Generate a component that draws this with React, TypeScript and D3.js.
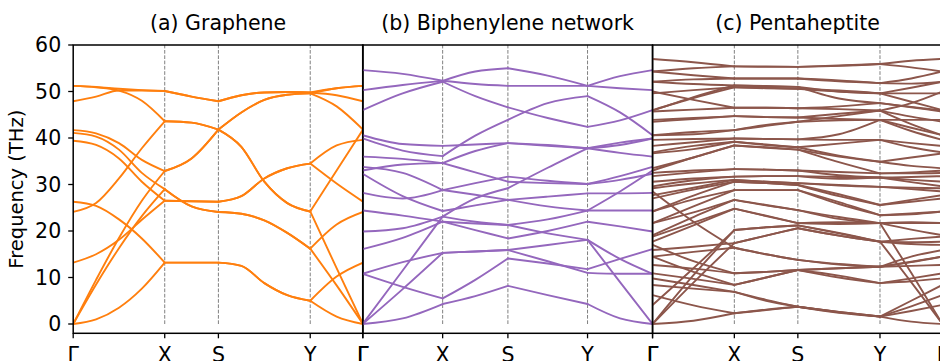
import React from "react";
import * as d3 from "d3";

const W = 940;
const H = 361;

const yTicks = [0, 10, 20, 30, 40, 50, 60];
const kLabels = ["Γ", "X", "S", "Y", "Γ"];
const titles = ["(a) Graphene", "(b) Biphenylene network", "(c) Pentaheptite"];
const colors = ["#ff7f0e", "#9467bd", "#8c564b"];

// k-path distances of high-symmetry points (Γ, X, S, Y, Γ)
const grapheneK = [0, 91.4, 145, 236.7, 289.4];
const grapheneDiv = [4, 2, 4, 2];
const biphenyleneK = [0, 80, 145.3, 225, 290];
const biphenyleneDiv = [2, 2, 2, 2];
const pentaheptiteK = [0, 81.6, 145, 227, 289.3];
const pentaheptiteDiv = [2, 2, 2, 2];

// Graphene bands (THz): Γ .25 .5 .75 X | mid S | .25 .5 .75 Y | mid Γ
const grapheneBands = [
  [51.2, 51.0, 50.6, 50.3, 50.1, 48.9, 47.9, 49.2, 49.8, 49.9, 49.8, 50.7, 51.2],
  [47.9, 48.9, 50.2, 50.2, 50.1, 48.9, 47.9, 49.2, 49.8, 49.9, 49.8, 49.2, 47.9],
  [51.2, 50.9, 50.2, 48.0, 43.6, 43.3, 41.8, 45.5, 48.2, 49.3, 49.6, 46.8, 41.8],
  [24.1, 26.0, 31.3, 37.8, 43.6, 43.3, 41.8, 38.1, 30.6, 26.0, 24.2, 33.0, 41.8],
  [41.7, 41.0, 38.9, 35.3, 32.9, 35.6, 41.8, 45.5, 48.2, 49.3, 49.6, 50.7, 51.2],
  [41.1, 40.3, 37.5, 32.5, 29.0, 25.3, 24.1, 23.7, 22.3, 19.6, 16.2, 21.4, 24.1],
  [39.4, 38.5, 35.6, 30.6, 26.5, 26.4, 26.3, 27.5, 31.3, 33.5, 34.5, 38.4, 39.6],
  [0, 8.5, 16.3, 23.2, 29.0, 25.3, 24.1, 23.7, 22.3, 19.6, 16.2, 8.3, 0],
  [13.2, 15.0, 18.1, 22.4, 26.5, 26.4, 26.3, 27.5, 31.3, 33.5, 34.5, 30.2, 26.3],
  [0, 9.5, 18.5, 26.5, 32.9, 35.6, 41.8, 38.1, 30.6, 26.0, 24.2, 12.0, 0],
  [26.3, 25.4, 22.5, 18.4, 13.2, 13.2, 13.2, 12.5, 8.8, 6.2, 5.0, 10.2, 13.2],
  [0, 1.0, 3.5, 7.6, 13.2, 13.2, 13.2, 12.5, 8.8, 6.2, 5.0, 1.6, 0],
];

// Biphenylene network bands: Γ mid X mid S mid Y mid Γ
const biphenyleneBands = [
  [54.6, 53.8, 52.3, 51.6, 51.2, 51.2, 51.2, 50.7, 50.3],
  [50.3, 51.4, 52.3, 54.3, 55.0, 53.4, 51.2, 53.3, 54.6],
  [46.0, 49.6, 52.1, 49.0, 46.6, 44.3, 42.4, 43.8, 46.0],
  [40.6, 38.7, 38.3, 38.6, 38.9, 38.3, 37.8, 39.0, 39.9],
  [39.9, 37.3, 36.1, 40.5, 43.9, 47.5, 49.0, 45.5, 40.6],
  [36.0, 35.5, 34.6, 37.2, 38.9, 38.5, 37.8, 36.8, 36.0],
  [33.8, 32.5, 28.8, 30.3, 31.7, 30.8, 30.1, 31.8, 33.8],
  [33.0, 34.3, 34.6, 32.6, 30.6, 30.3, 30.1, 31.0, 32.3],
  [32.3, 27.5, 24.3, 25.5, 26.7, 27.4, 28.1, 28.1, 28.2],
  [28.2, 27.0, 28.8, 27.8, 26.7, 25.3, 24.4, 24.4, 24.4],
  [24.4, 23.3, 22.0, 21.6, 21.3, 19.5, 18.1, 14.0, 10.8],
  [19.9, 20.6, 23.1, 22.0, 21.3, 22.5, 24.4, 28.5, 33.0],
  [16.1, 18.5, 22.0, 20.2, 18.4, 20.0, 22.0, 21.0, 19.9],
  [10.8, 13.3, 15.3, 15.6, 15.9, 13.5, 11.0, 10.8, 10.8],
  [10.8, 8.0, 5.5, 9.5, 14.1, 13.0, 11.8, 14.0, 16.1],
  [0, 11.5, 23.1, 27.0, 29.2, 33.6, 37.8, 38.5, 39.9],
  [0, 7.5, 15.3, 15.6, 15.9, 17.0, 18.1, 9.0, 0],
  [0, 1.2, 4.3, 6.0, 8.2, 6.2, 4.3, 1.2, 0],
];

// Pentaheptite bands: Γ mid X mid S mid Y mid Γ
const pentaheptiteBands = [
  [57.0, 56.3, 55.4, 55.3, 55.3, 55.5, 55.9, 56.6, 57.0],
  [54.3, 55.0, 55.4, 55.4, 55.3, 55.6, 55.9, 55.2, 54.3],
  [54.3, 53.5, 52.8, 52.8, 52.8, 52.2, 51.8, 52.8, 54.3],
  [52.1, 52.6, 52.8, 52.8, 52.8, 52.4, 51.8, 51.7, 52.1],
  [52.1, 51.6, 51.3, 51.1, 51.0, 50.0, 49.6, 50.8, 52.1],
  [50.0, 48.2, 46.5, 46.5, 46.4, 46.2, 45.9, 47.5, 50.0],
  [49.6, 50.3, 50.9, 50.8, 50.6, 50.0, 49.6, 49.6, 49.6],
  [46.0, 48.6, 50.9, 50.7, 50.6, 50.2, 49.6, 47.8, 46.0],
  [45.9, 48.8, 51.3, 51.2, 51.0, 48.5, 47.5, 46.7, 45.9],
  [45.7, 46.1, 46.5, 46.5, 46.4, 46.8, 47.5, 46.6, 45.7],
  [43.9, 44.3, 44.7, 44.5, 44.4, 44.1, 43.9, 43.9, 43.9],
  [43.5, 44.1, 44.7, 44.5, 44.4, 45.2, 45.9, 44.6, 43.5],
  [40.6, 40.8, 41.7, 42.8, 43.5, 43.8, 43.9, 42.2, 40.6],
  [40.6, 41.3, 41.7, 42.6, 43.5, 44.7, 45.9, 43.0, 40.6],
  [39.6, 39.8, 39.9, 39.8, 39.7, 40.8, 43.9, 41.5, 39.6],
  [38.3, 39.1, 39.9, 39.8, 39.7, 39.6, 39.6, 38.9, 38.3],
  [36.9, 38.3, 39.2, 38.6, 38.0, 38.8, 39.6, 38.0, 36.9],
  [36.7, 37.6, 39.2, 38.5, 38.0, 36.2, 34.9, 35.8, 36.7],
  [33.5, 35.8, 38.4, 38.0, 37.5, 36.0, 34.9, 34.0, 33.5],
  [33.0, 35.8, 38.4, 37.9, 37.5, 34.8, 32.4, 32.6, 33.0],
  [32.5, 33.0, 33.3, 33.2, 33.0, 32.7, 32.4, 32.4, 32.5],
  [31.8, 32.6, 33.3, 33.2, 33.0, 32.0, 31.5, 31.6, 31.8],
  [30.6, 31.3, 31.7, 31.8, 31.8, 31.6, 31.5, 31.0, 30.6],
  [29.6, 30.9, 31.7, 31.8, 31.8, 31.2, 31.5, 30.5, 29.6],
  [29.2, 30.2, 31.0, 30.6, 30.3, 29.9, 29.5, 29.3, 29.2],
  [28.5, 22.0, 16.4, 15.0, 13.8, 12.8, 12.3, 14.5, 15.9],
  [27.7, 29.3, 31.0, 30.6, 30.3, 29.8, 29.5, 29.0, 28.5],
  [27.0, 28.9, 30.6, 30.3, 29.9, 27.5, 25.6, 26.7, 27.7],
  [24.2, 27.6, 30.6, 30.3, 29.9, 27.9, 25.6, 26.3, 27.0],
  [24.2, 26.8, 28.8, 28.8, 28.8, 25.8, 23.4, 23.8, 24.2],
  [21.7, 25.3, 28.8, 28.8, 28.8, 26.2, 23.4, 23.6, 24.2],
  [21.7, 24.0, 26.7, 25.6, 24.5, 23.0, 21.7, 21.7, 21.7],
  [19.1, 23.0, 26.7, 25.5, 24.5, 22.6, 21.7, 21.9, 21.7],
  [18.8, 21.8, 24.8, 23.2, 21.7, 21.9, 21.7, 11.0, 0],
  [17.7, 21.2, 24.8, 23.3, 21.7, 21.5, 21.7, 20.3, 19.1],
  [17.0, 13.5, 10.9, 11.2, 11.6, 12.0, 12.3, 13.3, 14.5],
  [15.9, 16.6, 17.4, 19.0, 20.6, 19.0, 17.7, 17.2, 17.0],
  [14.5, 15.5, 16.4, 15.0, 13.8, 12.9, 12.3, 13.4, 14.5],
  [14.5, 11.2, 8.4, 10.0, 11.6, 10.0, 8.8, 9.8, 10.9],
  [12.7, 11.9, 10.9, 11.2, 11.6, 12.0, 12.3, 12.5, 12.7],
  [10.9, 9.7, 8.4, 10.0, 11.6, 10.4, 8.8, 9.2, 9.8],
  [9.8, 8.4, 6.9, 5.0, 3.7, 2.4, 1.6, 5.0, 8.4],
  [8.4, 7.6, 6.9, 5.2, 3.7, 2.5, 1.6, 3.8, 6.2],
  [6.2, 4.0, 2.3, 3.0, 3.7, 2.6, 1.6, 2.8, 4.1],
  [4.1, 12.0, 20.2, 20.8, 21.2, 19.6, 17.7, 18.3, 18.8],
  [0, 10.5, 20.2, 20.8, 21.2, 19.5, 17.7, 17.6, 17.7],
  [0, 8.9, 17.4, 19.0, 20.6, 19.0, 17.7, 9.0, 0],
  [0, 0.7, 2.3, 3.1, 3.7, 2.6, 1.6, 0.5, 0],
];

const panelsData = [
  { K: grapheneK, div: grapheneDiv, bands: grapheneBands },
  { K: biphenyleneK, div: biphenyleneDiv, bands: biphenyleneBands },
  { K: pentaheptiteK, div: pentaheptiteDiv, bands: pentaheptiteBands },
];

// layout
const panelLeft = [73.2, 362.7, 652.6];
const panelWidth = 289.8;
const plotTop = 45;
const plotBottom = 333.3;
const FONT = "DejaVu Sans, Liberation Sans, sans-serif";
const TICK_FS = 20.5;

function sampleK(K: number[], div: number[]) {
  const ks = [K[0]];
  for (let s = 0; s < div.length; s++) {
    for (let j = 1; j <= div[s]; j++) {
      ks.push(K[s] + ((K[s + 1] - K[s]) * j) / div[s]);
    }
  }
  return ks;
}

const y = d3.scaleLinear().domain([-2, 60]).range([plotBottom, plotTop]);

function Panel({ idx }: { idx: number }) {
  const { K, div, bands } = panelsData[idx];
  const x0 = panelLeft[idx];
  const x = d3.scaleLinear().domain([0, K[K.length - 1]]).range([x0, x0 + panelWidth]);
  const ks = sampleK(K, div);
  const line = d3
    .line<[number, number]>()
    .x((d) => x(d[0]))
    .y((d) => y(d[1]))
    .curve(d3.curveMonotoneX);
  const starts: number[] = [0];
  div.forEach((n, s) => starts.push(starts[s] + n));
  const paths: string[] = [];
  bands.forEach((b) => {
    for (let s = 0; s < div.length; s++) {
      const pts: [number, number][] = [];
      for (let i = starts[s]; i <= starts[s + 1]; i++) pts.push([ks[i], b[i]]);
      paths.push(line(pts) || "");
    }
  });
  const clipId = `clip-${idx}`;
  return (
    <g>
      <defs>
        <clipPath id={clipId}>
          <rect x={x0} y={plotTop} width={panelWidth} height={plotBottom - plotTop} />
        </clipPath>
      </defs>
      {K.slice(1, 4).map((k, i) => (
        <line
          key={"d" + i}
          x1={x(k)}
          x2={x(k)}
          y1={y(0)}
          y2={plotTop}
          stroke="#808080"
          strokeWidth={1}
          strokeDasharray="3.7,1.6"
        />
      ))}
      <g clipPath={`url(#${clipId})`}>
        {paths.map((p, i) => (
          <path key={i} d={p} fill="none" stroke={colors[idx]} strokeWidth={1.9} strokeLinecap="round" />
        ))}
      </g>
      <rect x={x0} y={plotTop} width={panelWidth} height={plotBottom - plotTop} fill="none" stroke="#000" strokeWidth={1.5} />
      {K.map((k, i) => (
        <g key={"t" + i}>
          <line x1={x(k)} x2={x(k)} y1={plotBottom} y2={plotBottom + 5} stroke="#000" strokeWidth={1.3} />
          <text x={x(k)} y={361.5} textAnchor="middle" fontFamily={FONT} fontSize={TICK_FS} fill="#000">
            {kLabels[i]}
          </text>
        </g>
      ))}
      <text x={x0 + panelWidth / 2} y={30} textAnchor="middle" fontFamily={FONT} fontSize={TICK_FS} fill="#000">
        {titles[idx]}
      </text>
      {idx === 0 &&
        yTicks.map((t) => (
          <g key={"y" + t}>
            <line x1={x0 - 5} x2={x0} y1={y(t)} y2={y(t)} stroke="#000" strokeWidth={1.3} />
            <text x={x0 - 12} y={y(t)} dy="0.36em" textAnchor="end" fontFamily={FONT} fontSize={TICK_FS} fill="#000">
              {t}
            </text>
          </g>
        ))}
    </g>
  );
}

export default function App() {
  return (
    <svg
      width={W}
      height={H}
      viewBox={`0 0 ${W} ${H}`}
      style={{ position: "absolute", left: 0, top: 0, background: "#fff" }}
    >
      <rect x={0} y={0} width={W} height={H} fill="#fff" />
      {[0, 1, 2].map((i) => (
        <Panel key={i} idx={i} />
      ))}
      <text
        transform={`translate(23,${(plotTop + plotBottom) / 2}) rotate(-90)`}
        textAnchor="middle"
        fontFamily={FONT}
        fontSize={19.5}
        fill="#000"
      >
        Frequency (THz)
      </text>
    </svg>
  );
}
